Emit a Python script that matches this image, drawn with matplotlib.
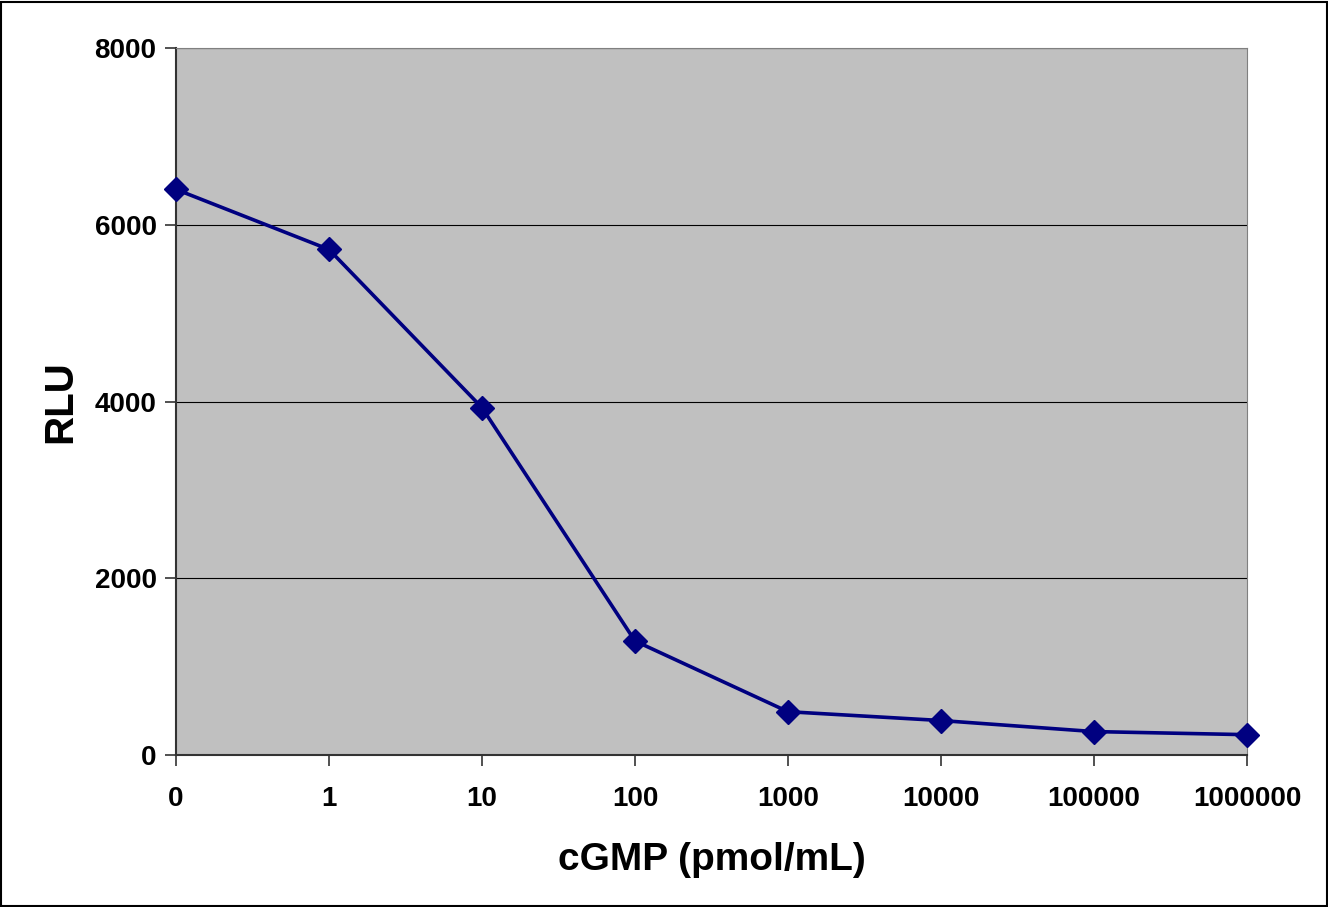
import matplotlib
matplotlib.use("Agg")
import matplotlib.pyplot as plt
from matplotlib.patches import Rectangle

plt.rcParams["font.family"] = ["Liberation Sans", "DejaVu Sans"]

conc_labels = ["0", "1", "10", "100", "1000", "10000", "100000", "1000000"]
rlu = [6400, 5720, 3930, 1290, 490, 390, 265, 230]

fig = plt.figure(figsize=(13.28, 9.07), dpi=100)
ax = fig.add_axes([176/1328, 1-755/907, (1247-176)/1328, (755-48)/907])
ax.set_facecolor("#C0C0C0")

x = list(range(len(conc_labels)))
ax.plot(x, rlu, color="#000080", lw=2.6, marker="D", ms=12.5, mec="#000080", mfc="#000080", zorder=3, clip_on=False)

ax.set_xlim(0, len(conc_labels)-1)
ax.set_ylim(0, 8000)
ax.set_yticks([0, 2000, 4000, 6000, 8000])
ax.set_xticks(x)
ax.set_xticklabels(conc_labels)
ax.grid(axis="y", color="black", lw=0.8)
ax.set_axisbelow(True)
for lab in ax.get_xticklabels() + ax.get_yticklabels():
    lab.set_fontweight("bold")
ax.tick_params(axis="both", labelsize=20, direction="out", length=8, color="#333333", width=1.2)
ax.tick_params(axis="x", pad=14)
ax.tick_params(axis="y", pad=6)

ax.spines["left"].set_color("#333333"); ax.spines["left"].set_linewidth(1.5)
ax.spines["bottom"].set_color("#333333"); ax.spines["bottom"].set_linewidth(1.5)
ax.spines["right"].set_color("#808080"); ax.spines["top"].set_color("#808080")

ax.set_xlabel("cGMP (pmol/mL)", fontsize=28, fontweight="bold", labelpad=22)
ax.set_ylabel("RLU", fontsize=29, fontweight="bold", labelpad=11)

fig.patches.append(Rectangle((0.001, 0.001), 0.998, 0.997, transform=fig.transFigure,
                             fill=False, edgecolor="black", lw=1.5))
fig.savefig("out.png", dpi=100)
